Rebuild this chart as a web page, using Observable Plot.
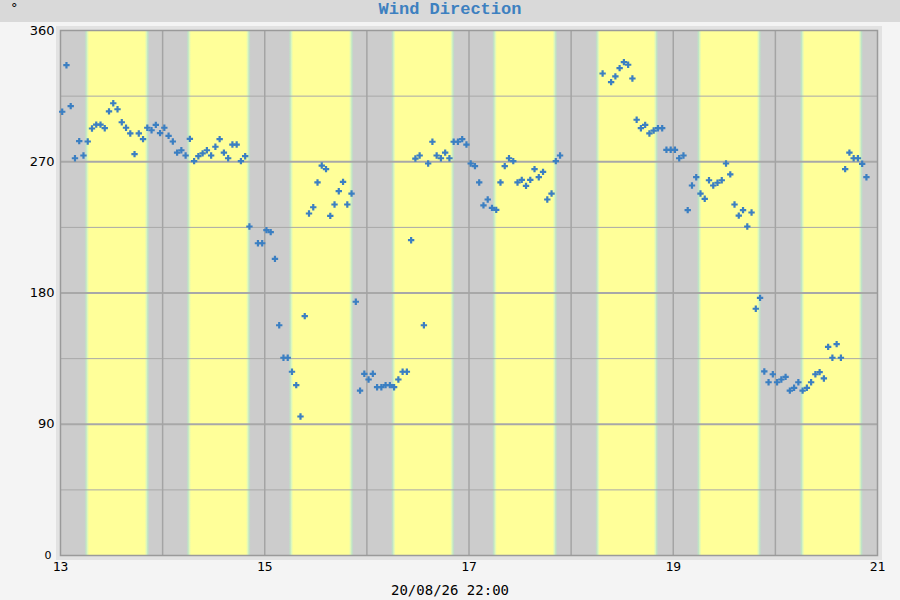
<!DOCTYPE html>
<html><head><meta charset="utf-8">
<script src="https://cdn.jsdelivr.net/npm/d3@7"></script>
<script src="https://cdn.jsdelivr.net/npm/@observablehq/plot@0.6"></script>
<style>
html,body{margin:0;padding:0;background:#f4f4f4;width:900px;height:600px;overflow:hidden}
#titlebar{position:relative;height:22px;background:#d9d9d9;}
#unit{position:absolute;left:11px;top:1px;font:13px/13px "DejaVu Sans";color:#000}
#title{position:absolute;left:0;right:0;top:0;text-align:center;font:bold 17px "Liberation Mono";color:#3d80c0;line-height:20px}
#chart{height:558px}
#caption{height:20px;line-height:20px;padding-top:2px;text-align:center;font:14px "DejaVu Sans Mono";color:#000}
</style></head><body>
<div id="titlebar"><span id="unit">°</span><div id="title">Wind Direction</div></div>
<div id="chart"></div>
<div id="caption">20/08/26 22:00</div>
<script>
// Hourly wind direction (degrees) starting 13th, ~00:24; null = missing sample
const startDay = 13;
const sampleOffsetHours = 0.4;
const windDirection = [
  304.3, 336.2, 308.1, 272.4, 284.1, 274.3, 283.9, 292.8, 295.5, 295.5,
  293.0, 304.5, 310.1, 306.0, 297.1, 293.3, 289.4, 275.2, 289.4, 285.5,
  293.3, 291.6, 295.3, 289.6, 293.3, 287.8, 283.9, 276.3, 277.9, 274.3,
  285.7, 270.4, 273.8, 275.7, 277.9, 274.3, 280.3, 285.5, 276.3, 272.4,
  281.8, 281.8, 270.4, 273.8, 225.6, null, 214.1, 214.1, 223.1, 221.7,
  203.4, 157.9, 135.6, 135.6, 126.0, 116.8, 95.3, 164.1, 234.5, 238.8,
  255.8, 267.4, 264.9, 232.9, 240.7, 249.8, 256.2, 240.7, 248.2, 174.0,
  113.1, 124.6, 120.7, 124.6, 115.4, 115.4, 116.8, 116.8, 115.4, 120.7,
  126.0, 126.0, 216.2, 272.2, 274.3, 157.9, 268.8, 283.7, 274.3, 272.4,
  276.3, 272.4, 283.7, 283.7, 285.5, 281.8, 268.8, 267.0, 255.8, 240.1,
  244.1, 238.4, 237.0, 255.8, 267.0, 272.4, 270.4, 255.8, 257.6, 253.5,
  257.6, 264.9, 259.4, 263.1, 244.1, 248.2, 270.4, 274.3, null, null,
  null, null, null, null, null, null, null, 330.5, null, 324.6,
  328.5, 334.2, 338.3, 336.5, 327.1, 298.8, 293.0, 295.3, 289.4, 291.4,
  293.0, 293.0, 278.2, 278.2, 278.2, 272.4, 274.3, 236.8, 253.7, 259.4,
  248.2, 244.6, 257.3, 253.7, 255.6, 257.3, 268.8, 261.3, 240.7, 233.1,
  236.8, 225.6, 235.2, 169.2, 176.7, 126.2, 118.8, 124.3, 118.8, 120.7,
  122.5, 113.1, 115.0, 118.8, 113.1, 115.0, 118.8, 124.3, 125.7, 121.4,
  143.1, 135.6, 144.9, 135.6, 264.9, 276.3, 272.4, 272.4, 268.6, 259.4
];
// Daylight bands (fraction of day)
const bandDays = [13, 14, 15, 16, 17, 18, 19, 20];
const sunrise  = [0.239, 0.238, 0.238, 0.242, 0.232, 0.242, 0.236, 0.245];
const sunset   = [0.875, 0.867, 0.875, 0.865, 0.870, 0.858, 0.868, 0.863];
// Axes
const xTickValues = [13, 15, 17, 19, 21];
const xGridValues = [14, 15, 16, 17, 18, 19, 20];
const yTickValues = [0, 90, 180, 270, 360];
const yMinorGrid = [45, 135, 225, 315];
const yMajorGrid = [90, 180, 270];

const points = windDirection
  .map((v, i) => ({t: startDay + (i + sampleOffsetHours) / 24, v}))
  .filter(d => d.v !== null);
const bands = bandDays.map((d, i) => ({x1: d + sunrise[i], x2: d + sunset[i]}));

const svg = Plot.plot({
  width: 900,
  height: 558,
  marginLeft: 60,
  marginRight: 23,
  marginTop: 8,
  marginBottom: 25,
  style: {background: "transparent", color: "#000", overflow: "visible"},
  x: {domain: [13, 21]},
  y: {domain: [0, 360]},
  marks: [
    Plot.frame({stroke: "#e2e2e2", strokeWidth: 4, inset: -2.5}),
    Plot.frame({fill: "#cccccc"}),
    Plot.rect(bands, {x1: "x1", x2: "x2", fill: "url(#daylight)"}),
    Plot.ruleY(yMinorGrid, {stroke: "#a8a8a8", strokeWidth: 1}),
    Plot.ruleY(yMajorGrid, {stroke: "#a8a8a8", strokeWidth: 2}),
    Plot.ruleX(xGridValues, {stroke: "#a4a4a4", strokeWidth: 1.5}),
    Plot.frame({stroke: "#9a9a9a", strokeWidth: 1.5}),
    Plot.axisX({ticks: xTickValues, tickSize: 0, tickPadding: 6, tickFormat: d => String(d),
      fontSize: 13, fontFamily: "DejaVu Sans Mono", label: null}),
    Plot.axisY({ticks: yTickValues, tickSize: 0, tickPadding: 6, tickFormat: d => String(d),
      fontSize: 13, fontFamily: "DejaVu Sans", label: null}),
    Plot.dot(points, {x: "t", y: "v", symbol: "plus", r: 2.2, stroke: "#3b7fc2", strokeWidth: 2.2})
  ]
});

// gradient for daylight edges
const ns = "http://www.w3.org/2000/svg";
const defs = document.createElementNS(ns, "defs");
const grad = document.createElementNS(ns, "linearGradient");
grad.setAttribute("id", "daylight");
grad.setAttribute("x1", "0"); grad.setAttribute("x2", "1");
grad.setAttribute("y1", "0"); grad.setAttribute("y2", "0");
[[0, "#cccccc"], [0.025, "#bfe3c6"], [0.045, "#dcf7bd"], [0.07, "#ffff99"],
 [0.93, "#ffff99"], [0.955, "#dcf7bd"], [0.975, "#bfe3c6"], [1, "#cccccc"]].forEach(([o, c]) => {
  const s = document.createElementNS(ns, "stop");
  s.setAttribute("offset", o); s.setAttribute("stop-color", c);
  grad.appendChild(s);
});
defs.appendChild(grad);
svg.insertBefore(defs, svg.firstChild);

d3.select(svg).selectAll("g[aria-label='y-axis tick label'] text")
  .filter(function() { return this.textContent === "0"; })
  .attr("font-size", 11).attr("dx", -3);

document.getElementById("chart").appendChild(svg);
</script>
</body></html>
